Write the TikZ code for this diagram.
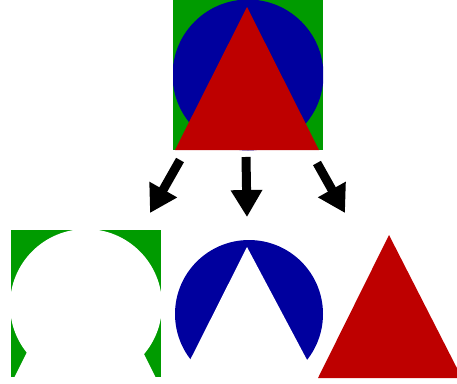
\documentclass[tikz,border=0pt]{standalone}
\usepackage{xcolor}
\usepackage{tikz}
\usetikzlibrary{arrows.meta, calc}
\definecolor{mygreen}{RGB}{0,155,0}
\definecolor{myblue}{RGB}{0,0,158}
\definecolor{myred}{RGB}{190,0,0}
\tikzset{
  holder/.style={rectangle, minimum size=3cm, inner sep=0pt, outer sep=0pt},
  bigarrow/.style={-{Triangle[width=0.6cm, length=0.54cm]}, line width=0.18cm, color=black}
}

\begin{document}
\begin{tikzpicture}[x=0.02cm, y=-0.02cm]
  \useasboundingbox (0,0) rectangle (457,383);

  % Composite picture (square, disc, triangle)
  \begin{scope}[shift={(173,0)}]
    \fill[mygreen] (0,0) rectangle (150,150);
    \begin{scope}
      \clip (0,0) rectangle (150,150);
      \fill[myblue] (75,75) circle[radius=75.5];
    \end{scope}
    \fill[myred] (74,7) -- (2,150) -- (146,150) -- cycle;
  \end{scope}

  % Square with disc and triangle taken out
  \begin{scope}[shift={(11,230)}]
    \fill[mygreen] (0,0) rectangle (150,147);
    \fill[white] (75,75) circle[radius=76];
    \fill[white] (74,7) -- (2,150) -- (146,150) -- cycle;
  \end{scope}

  % Disc with triangle taken out
  \begin{scope}[shift={(175,240)}]
    \fill[myblue] (74,74) circle[radius=74];
    \fill[white] (72,7) -- (0,150) -- (148,150) -- cycle;
  \end{scope}

  % Triangle alone
  \begin{scope}[shift={(316,228)}]
    \fill[myred] (73,7) -- (2,150) -- (146,150) -- cycle;
  \end{scope}

  % Holders for the four pictures
  \node[holder] (src) at (248,75) {};
  \node[holder] (cutA) at (86,305) {};
  \node[holder] (cutB) at (250,315) {};
  \node[holder] (cutC) at (391,303) {};

  % Arrows
  \draw[bigarrow] ($(src.south west)+(7,10)$) -- ($(cutA.north east)+(-11,-17)$);
  \draw[bigarrow] ($(src.south)+(-2,7)$) -- ($(cutB.north)+(-3,-23)$);
  \draw[bigarrow] ($(src.south east)+(-6,13)$) -- ($(cutC.north west)+(29,-15)$);
\end{tikzpicture}
\end{document}
